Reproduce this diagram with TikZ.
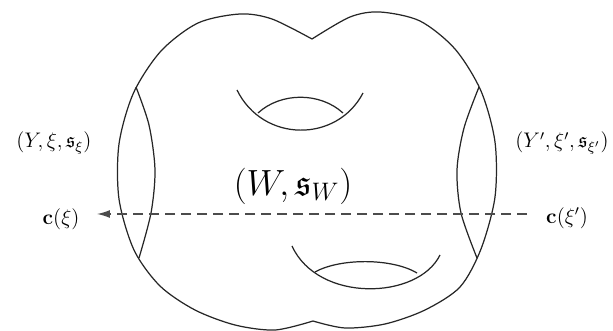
\documentclass[tikz,border=0pt]{standalone}
\usepackage{amsmath,amssymb}
\usetikzlibrary{arrows.meta,positioning}

\begin{document}
\begin{tikzpicture}[x=0.02cm, y=-0.02cm,
  surf/.style={line width=0.7pt, black!85},
  lbl/.style={font=\large, inner sep=0pt},
  big/.style={font=\huge, inner sep=0pt},
  flow/.style={line width=0.7pt, black!70, dash pattern=on 2mm off 1.2mm,
    -{Latex[length=2.6mm, width=1.6mm]}}
]
\useasboundingbox (0,0) rectangle (613,331);

\node[lbl] (yl) at (54,143) {$(Y,\xi,\mathfrak{s}_\xi)$};
\node[lbl] (yr) at (562,143) {$(Y',\xi',\mathfrak{s}_{\xi'})$};
\node[big] (w) at (293,186) {$(W,\mathfrak{s}_W)$};
\node[lbl] (cl) at (61,219) {$\mathbf{c}(\xi)$};
\node[lbl] (cr) at (567,218) {$\mathbf{c}(\xi')$};

\coordinate (tipl) at (97,214);
\coordinate (startr) at (527,214);

\draw[surf] plot[smooth] coordinates {(312,39) (272,19) (240,14) (198,23) (161,51)
  (133.5,93) (119,144) (119,199) (134,250) (160,286) (195,310) (235,325) (275,330)
  (313,321)};
\draw[surf] plot[smooth] coordinates {(313,321) (345,328) (385,324) (425,310)
  (460,287) (481,249) (495,197) (495,142) (481,91) (455,49) (420,21) (380,12)
  (350,17) (312,39)};

\draw[surf] plot[smooth] coordinates {(136,87) (149,125) (155,170) (151,213) (139,258)};
\draw[surf] plot[smooth] coordinates {(479,87) (464,128) (457,170) (461,213) (477,258)};

\draw[surf] (237,90) .. controls (263,143) and (337,143) .. (363,93);
\draw[surf] (258,113) .. controls (281,92) and (320,92) .. (343,113);
\draw[surf] (292,246) .. controls (318,303) and (418,300) .. (440,255);
\draw[surf] (315,272) .. controls (340,258) and (392,258) .. (417,273);

\draw[flow] (startr) -- (tipl);
\end{tikzpicture}
\end{document}
